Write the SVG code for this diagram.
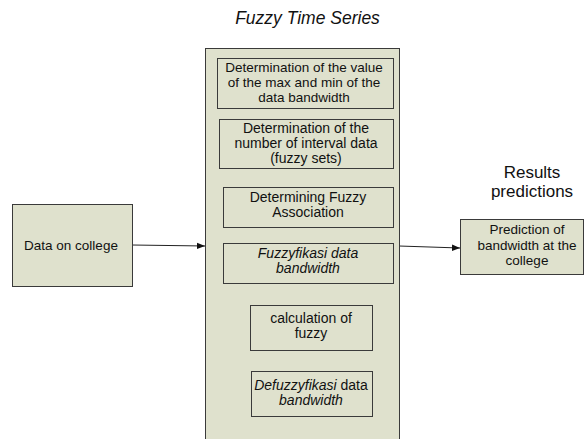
<svg xmlns="http://www.w3.org/2000/svg" width="584" height="439" viewBox="0 0 584 439">
<defs>
<style>
.box{fill:#dfe1cd;stroke:#3a3a3a;stroke-width:1}
.inner{fill:#dfe1cd;stroke:#3a3a3a;stroke-width:1}
text{font-family:"Liberation Sans",Arial,sans-serif;font-size:14px;fill:#111;text-anchor:middle}
.side{font-size:13.5px}
.tight{font-size:13.5px}
.it{font-style:italic}
.conn{stroke:#222;stroke-width:1;fill:none;marker-end:url(#arr)}
</style>
<marker id="arr" viewBox="0 0 10 10" refX="10" refY="5" markerWidth="8" markerHeight="8" markerUnits="userSpaceOnUse" orient="auto">
<path d="M0,1 L10,5 L0,9 z" fill="#111"/>
</marker>
</defs>
<rect width="584" height="439" fill="#fff"/>
<text x="307.5" y="24" class="it" style="font-size:17.5px">Fuzzy Time Series</text>
<text x="532" y="178" style="font-size:17px">Results</text>
<text x="532" y="197" style="font-size:17px">predictions</text>
<g id="connectors">
<line class="conn" x1="132" y1="245" x2="205" y2="246"/>
<line class="conn" x1="399" y1="246" x2="460" y2="248"/>
</g>
<g id="data-college">
<rect class="box" x="12.5" y="204.5" width="120" height="82"/>
<text x="71" y="250" class="side">Data on college</text>
</g>
<g id="fts">
<rect class="box" x="205.5" y="48.5" width="194" height="400"/>
</g>
<g id="n1">
<rect class="inner" x="217.5" y="58.5" width="176" height="50"/>
<text x="304" y="72" class="tight">Determination of the value</text>
<text x="304" y="87" class="tight">of the max and min of the</text>
<text x="304" y="102" class="tight">data bandwidth</text>
</g>
<g id="n2">
<rect class="inner" x="219.5" y="119.5" width="174" height="49"/>
<text x="306" y="133">Determination of the</text>
<text x="306" y="148">number of interval data</text>
<text x="306" y="163">(fuzzy sets)</text>
</g>
<g id="n3">
<rect class="inner" x="223.5" y="187.5" width="170" height="40"/>
<text x="308" y="202">Determining Fuzzy</text>
<text x="308" y="217">Association</text>
</g>
<g id="n4">
<rect class="inner" x="223.5" y="243.5" width="170" height="40"/>
<text x="308" y="258" class="it">Fuzzyfikasi data</text>
<text x="308" y="273" class="it">bandwidth</text>
</g>
<g id="n5">
<rect class="inner" x="250.5" y="305.5" width="122" height="45"/>
<text x="311" y="323">calculation of</text>
<text x="311" y="338">fuzzy</text>
</g>
<g id="n6">
<rect class="inner" x="251.5" y="371.5" width="121" height="45"/>
<text x="311" y="390"><tspan class="it">Defuzzyfikasi</tspan> data</text>
<text x="311" y="405" class="it">bandwidth</text>
</g>
<g id="prediction">
<rect class="box" x="460.5" y="219.5" width="123" height="55"/>
<text x="527" y="234" class="side">Prediction of</text>
<text x="527" y="250" class="side">bandwidth at the</text>
<text x="527" y="265" class="side">college</text>
</g>
</svg>
